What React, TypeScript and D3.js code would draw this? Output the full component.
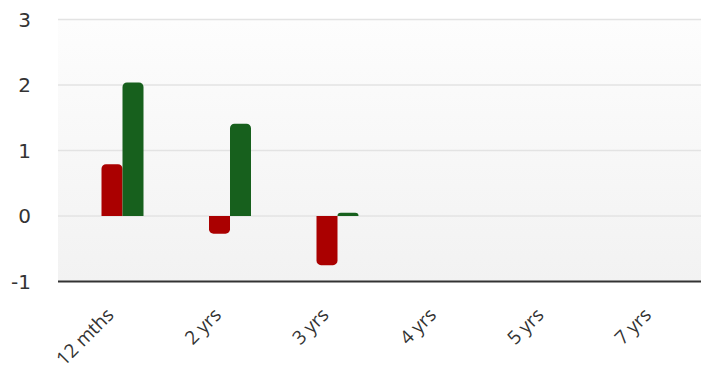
import React from "react";
import * as d3 from "d3";

const categories = ["12 mths", "2 yrs", "3 yrs", "4 yrs", "5 yrs", "7 yrs"];
const seriesA = [0.79, -0.27, -0.75, null, null, null];
const seriesB = [2.04, 1.41, 0.05, null, null, null];
const yTicks = [3, 2, 1, 0, -1];

const W = 701;
const H = 378;
const plotLeft = 58;
const plotRight = 701;

function barPath(x: number, w: number, y0: number, yv: number, rMax: number) {
  const h = Math.abs(yv - y0);
  const r = Math.min(rMax, h, w / 2);
  const p = d3.path();
  if (yv <= y0) {
    p.moveTo(x, y0);
    p.lineTo(x, yv + r);
    p.arcTo(x, yv, x + r, yv, r);
    p.lineTo(x + w - r, yv);
    p.arcTo(x + w, yv, x + w, yv + r, r);
    p.lineTo(x + w, y0);
    p.closePath();
  } else {
    p.moveTo(x, y0);
    p.lineTo(x, yv - r);
    p.arcTo(x, yv, x + r, yv, r);
    p.lineTo(x + w - r, yv);
    p.arcTo(x + w, yv, x + w, yv - r, r);
    p.lineTo(x + w, y0);
    p.closePath();
  }
  return p.toString();
}

export default function App() {
  const y = d3.scaleLinear().domain([-1, 3]).range([281.5, 19.5]);
  const x = d3.scaleBand<string>().domain(categories).range([68.75, 713.75]).padding(0);
  const bw = 21;
  const cx = (c: string) => (x(c) as number) + x.bandwidth() / 2;

  return (
    <svg width={W} height={H} style={{ position: "absolute", left: 0, top: 0 }}>
      <defs>
        <linearGradient id="bg" x1="0" y1="0" x2="0" y2="1">
          <stop offset="0%" stopColor="#fdfdfd" />
          <stop offset="100%" stopColor="#f2f2f2" />
        </linearGradient>
      </defs>
      <rect x={plotLeft} y={y(3)} width={plotRight - plotLeft} height={y(-1) - y(3)} fill="url(#bg)" />
      {yTicks.map((t) => (
        <g key={t}>
          {t !== -1 && (
            <line x1={plotLeft} x2={plotRight} y1={y(t)} y2={y(t)} stroke="#e3e3e3" strokeWidth={1.5} />
          )}
          <text
            x={31}
            y={y(t)}
            textAnchor="end"
            dominantBaseline="central"
            fontFamily="DejaVu Sans"
            fontSize={20}
            fill="#333"
          >
            {t}
          </text>
        </g>
      ))}
      {categories.map((c, i) => {
        const a = seriesA[i];
        const b = seriesB[i];
        const c0 = cx(c);
        return (
          <g key={c}>
            {a != null && (
              <path d={barPath(c0 - bw, bw, y(0), y(a), 4.5)} fill="#aa0000" />
            )}
            {b != null && (
              <path d={barPath(c0, bw, y(0), y(b), 4.5)} fill="#17601d" />
            )}
          </g>
        );
      })}
      <line x1={plotLeft} x2={plotRight} y1={y(-1)} y2={y(-1)} stroke="#333" strokeWidth={2} />
      {categories.map((c) => (
        <text
          key={c}
          transform={`translate(${cx(c) - 7.5},${316}) rotate(-45)`}
          textAnchor="end"
          fontFamily="Open Sans"
          fontSize={19}
          fill="#333"
        >
          {c}
        </text>
      ))}
    </svg>
  );
}
